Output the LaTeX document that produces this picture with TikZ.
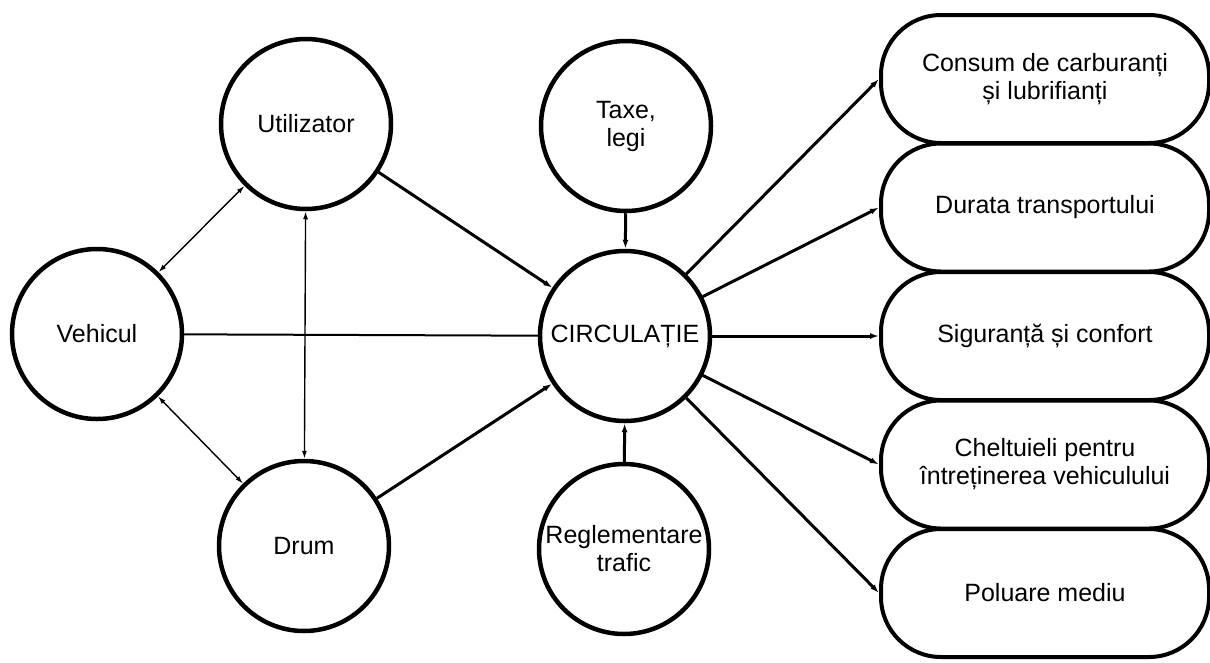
\documentclass[tikz,border=0pt]{standalone}
\usepackage{fontspec}
\setmainfont{Liberation Sans}
\usetikzlibrary{arrows.meta}
\begin{document}
\begin{tikzpicture}[x=1pt,y=-1pt,
  circ/.style={circle,draw,line width=4.5pt,minimum size=170pt,inner sep=0pt,align=center,font=\fontsize{25}{28}\selectfont},
  outbox/.style={rectangle,draw,line width=4pt,rounded corners=60pt,minimum width=328pt,minimum height=128pt,inner sep=0pt,align=center,font=\fontsize{25}{28}\selectfont},
  thickcon/.style={line width=3pt},
  thincon/.style={line width=1.4pt},
  tip/.style={-{Latex[length=9pt,width=6pt]}},
  twotip/.style={{Latex[length=8pt,width=5pt]}-{Latex[length=8pt,width=5pt]}}
]
\useasboundingbox (0,0) rectangle (1210,662);
% circles
\node[circ] (u) at (306,124) {Utilizator};
\node[circ] (v) at (97,334) {Vehicul};
\node[circ] (d) at (304,546) {Drum};
\node[circ] (t) at (626,126) {Taxe,\\legi};
\node[circ] (c) at (625,336) {CIRCULAȚIE};
\node[circ] (r) at (624,549) {Reglementare\\trafic};
% boxes
\node[outbox] (b1) at (1045,79) {Consum de carburanți\\și lubrifianți};
\node[outbox] (b2) at (1045,207.5) {Durata transportului};
\node[outbox] (b3) at (1045,336) {Siguranță și confort};
\node[outbox] (b4) at (1045,464.5) {Cheltuieli pentru\\întreținerea vehiculului};
\node[outbox] (b5) at (1045,593) {Poluare mediu};
% connectors among left circles
\draw[thincon,twotip] (v) -- (u);
\draw[thincon,twotip] (v) -- (d);
\draw[thincon,twotip] (u) -- (d);
\draw[line width=2pt] (v) -- (c);
\draw[thickcon,tip] (u) -- (c);
\draw[thickcon,tip] (d) -- (c);
\draw[thickcon,tip] (t) -- (c);
\draw[thickcon,tip] (r) -- (c);
% outputs
\draw[thickcon,tip] (c) -- (b1.west);
\draw[thickcon,tip] (c) -- (b2.west);
\draw[thickcon,tip] (c) -- (b3.west);
\draw[thickcon,tip] (c) -- (b4.west);
\draw[thickcon,tip] (c) -- (b5.west);
\end{tikzpicture}
\end{document}
